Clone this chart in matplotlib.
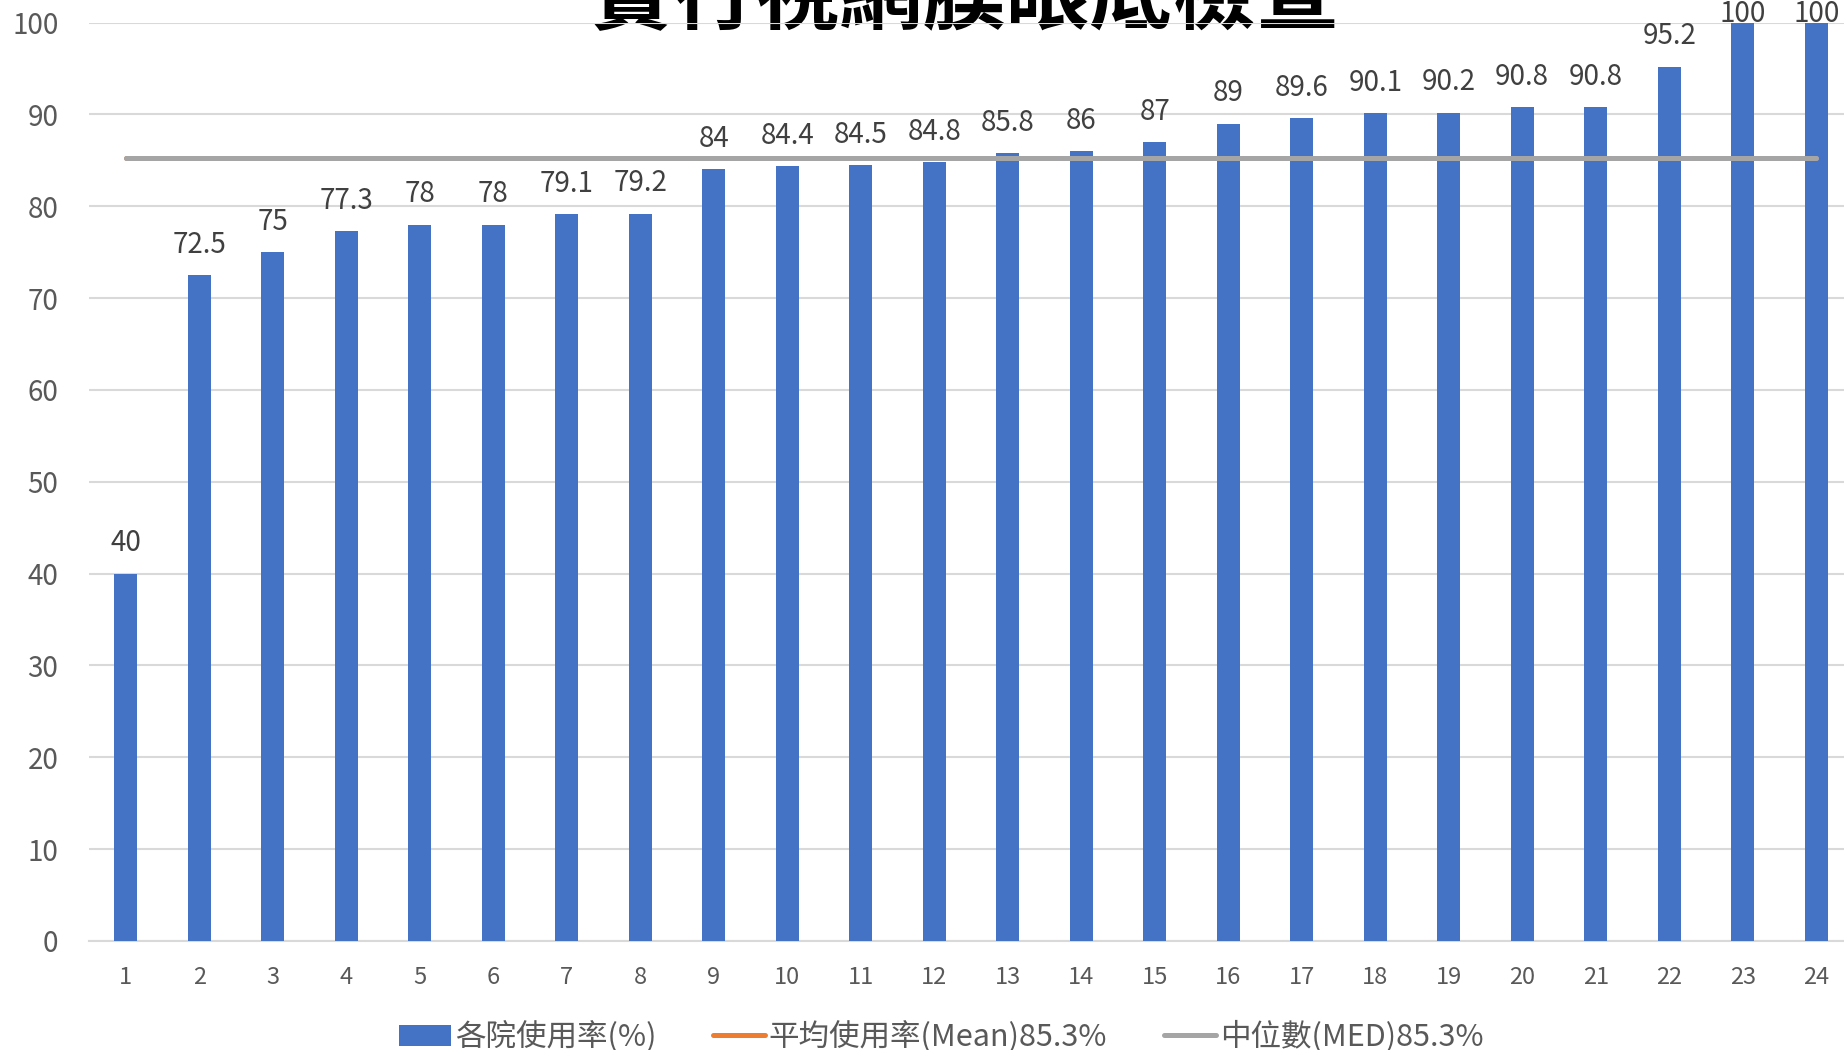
import numpy as np
import matplotlib
matplotlib.use("Agg")
import matplotlib.pyplot as plt
from matplotlib.lines import Line2D

plt.rcParams["font.family"] = ["Noto Sans CJK TC", "DejaVu Sans"]

hospitals = list(range(1, 25))
usage = [40, 72.5, 75, 77.3, 78, 78, 79.1, 79.2, 84, 84.4, 84.5, 84.8,
         85.8, 86, 87, 89, 89.6, 90.1, 90.2, 90.8, 90.8, 95.2, 100, 100]
mean_val = 85.3
median_val = 85.3
title = "實行視網膜眼底檢查"
bar_label = "各院使用率(%)"
mean_label = "平均使用率(Mean)85.3%"
median_label = "中位數(MED)85.3%"

BLUE = "#4472C4"; ORANGE = "#ED7D31"; GRAY = "#A5A5A5"; GRID = "#D9D9D9"; TXT = "#595959"

W, H = 1844, 1050
fig = plt.figure(figsize=(W / 100, H / 100), dpi=100)
ax = fig.add_axes([89 / W, (H - 941) / H, (1853 - 89) / W, (941 - 22.5) / H])
ax.set_facecolor("none")

bars = ax.bar(hospitals, usage, width=0.31, color=BLUE, zorder=3)
x = np.array(hospitals)
ax.plot([x[0], x[-1]], [mean_val, mean_val], color=ORANGE, lw=3.6,
        solid_capstyle="round", zorder=4)
ax.plot([x[0], x[-1]], [median_val, median_val], color=GRAY, lw=3.6,
        solid_capstyle="round", zorder=5)

# data labels; the 100s get pushed down against the top edge like Excel does
for xi, v in zip(hospitals, usage):
    off = 11 if v < 97 else -5
    ax.annotate(f"{v:g}", (xi, v), xytext=(0, off), textcoords="offset points",
                ha="center", va="bottom", fontsize=20, color="#404040", zorder=6)

ax.set_xlim(0.5, 24.5); ax.set_ylim(0, 100)
ax.set_yticks(range(0, 101, 10))
ax.set_xticks(hospitals)
ax.tick_params(axis="y", length=0, pad=22, labelsize=20, labelcolor=TXT)
ax.tick_params(axis="x", length=0, pad=18, labelsize=17, labelcolor=TXT)
ax.grid(axis="y", color=GRID, lw=1.5, zorder=1)
for s in ["top", "right", "left"]:
    ax.spines[s].set_visible(False)
ax.spines["bottom"].set_color(GRID); ax.spines["bottom"].set_linewidth(1.5)

# title sits mostly above the canvas, gridline drawn over it
fig.text(965 / W, 1 - 23 / H, title, ha="center", va="baseline", fontsize=60,
         fontweight="bold", color="black", zorder=-1)

handles = [bars,
           Line2D([], [], color=ORANGE, lw=3.6, solid_capstyle="round"),
           Line2D([], [], color=GRAY, lw=3.6, solid_capstyle="round")]
fig.legend(handles, [bar_label, mean_label, median_label], ncol=3, frameon=False,
           loc="center", bbox_to_anchor=(941 / W, 13 / H), fontsize=22,
           labelcolor=TXT, handlelength=1.7, handletextpad=0.13, columnspacing=1.85)

fig.savefig("out.png", dpi=100)
